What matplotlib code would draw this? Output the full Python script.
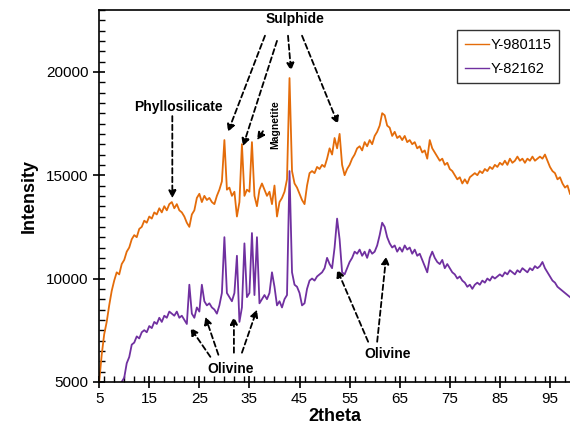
import numpy as np
import matplotlib
matplotlib.use("Agg")
import matplotlib.pyplot as plt
from matplotlib.ticker import MultipleLocator

plt.rcParams['font.family'] = ['Liberation Sans', 'DejaVu Sans']

# 2theta grids (0.5 deg steps)
theta_y98 = np.arange(5.0, 99.01, 0.5)
theta_y82 = np.arange(9.0, 99.01, 0.5)

# Y-980115 intensity, 5.0 .. 99.0
y980115 = [
    5000, 6300, 7300, 7900, 8700, 9400, 9900, 10300, 10200, 10700,            # 5.0-9.5
    10900, 11300, 11500, 11900, 12100, 12000, 12400, 12500, 12800, 12700,     # 10-14.5
    13000, 12900, 13200, 13100, 13400, 13200, 13500, 13300, 13600, 13700,     # 15-19.5
    13400, 13600, 13300, 13200, 13000, 12700, 12500, 13100, 13300, 13900,     # 20-24.5
    14100, 13700, 14000, 13800, 13900, 13700, 13600, 14000, 14300, 14700,     # 25-29.5
    16700, 14300, 14400, 14000, 14200, 13000, 13700, 16500, 14000, 14300,     # 30-34.5
    14200, 16600, 14000, 13500, 14300, 14600, 14300, 14000, 14200, 13600,     # 35-39.5
    14500, 13000, 13700, 13900, 14200, 14800, 19700, 15200, 14600, 14400,     # 40-44.5
    14100, 13800, 13600, 14500, 15100, 15200, 15100, 15400, 15300, 15500,     # 45-49.5
    15400, 15800, 16300, 16000, 16800, 16300, 17000, 15500, 15000, 15300,     # 50-54.5
    15500, 15800, 16000, 16300, 16400, 16200, 16600, 16400, 16700, 16500,     # 55-59.5
    16900, 17100, 17400, 18000, 17900, 17400, 17300, 16900, 17100, 16800,     # 60-64.5
    16900, 16700, 16900, 16600, 16700, 16500, 16600, 16300, 16400, 16100,     # 65-69.5
    16200, 15800, 16700, 16300, 16100, 15900, 15700, 15800, 15500, 15600,     # 70-74.5
    15300, 15200, 15000, 14800, 14900, 14600, 14800, 14600, 14900, 15000,     # 75-79.5
    15100, 15000, 15200, 15100, 15300, 15200, 15400, 15300, 15500, 15400,     # 80-84.5
    15600, 15500, 15700, 15500, 15800, 15600, 15700, 15900, 15700, 15800,     # 85-89.5
    15600, 15800, 15700, 15900, 15700, 15800, 15900, 15800, 16000, 15700,     # 90-94.5
    15400, 15200, 15100, 14800, 14900, 14600, 14400, 14500, 14100,            # 95-99
]

# Y-82162 intensity, 9.0 .. 99.0
y82162 = [
    4700, 5000,                                                               # 9.0-9.5
    5200, 5900, 6200, 6800, 6900, 7200, 7100, 7400, 7500, 7400,               # 10-14.5
    7700, 7600, 7900, 7800, 8100, 7900, 8200, 8100, 8400, 8300,               # 15-19.5
    8200, 8400, 8100, 8200, 8000, 7800, 9700, 8300, 8100, 8600,               # 20-24.5
    8400, 9700, 8900, 8700, 8800, 8600, 8500, 8300, 8700, 9300,               # 25-29.5
    12000, 9300, 9100, 8900, 9300, 11100, 7900, 8600, 11700, 9100,            # 30-34.5
    9300, 12200, 9200, 12000, 8800, 9000, 9200, 9000, 9300, 10300,            # 35-39.5
    9600, 8700, 8900, 8600, 9000, 9200, 15200, 10300, 9700, 9600,             # 40-44.5
    9300, 8700, 8800, 9500, 9900, 10000, 9900, 10100, 10200, 10300,           # 45-49.5
    10500, 11000, 10700, 10500, 11500, 12900, 11900, 10300, 10200, 10500,     # 50-54.5
    10800, 11000, 11300, 11200, 11400, 11100, 11300, 11000, 11400, 11200,     # 55-59.5
    11300, 11600, 12100, 12700, 12500, 12000, 11700, 11500, 11600, 11300,     # 60-64.5
    11500, 11300, 11600, 11400, 11500, 11200, 11400, 11100, 11200, 10900,     # 65-69.5
    10600, 10300, 11000, 11300, 11000, 10800, 10700, 10900, 10500, 10700,     # 70-74.5
    10500, 10300, 10200, 10000, 10100, 9900, 9800, 9600, 9700, 9500,          # 75-79.5
    9700, 9800, 9700, 9900, 9800, 10000, 9900, 10100, 10000, 10100,           # 80-84.5
    10200, 10100, 10300, 10200, 10400, 10300, 10200, 10400, 10300, 10500,     # 85-89.5
    10400, 10300, 10500, 10400, 10600, 10500, 10600, 10800, 10500, 10300,     # 90-94.5
    10100, 9900, 9800, 9600, 9500, 9400, 9300, 9200, 9100,                    # 95-99
]

series_names = ['Y-980115', 'Y-82162']
colors = ['#E46C0A', '#7030A0']
x_ticks = [5, 15, 25, 35, 45, 55, 65, 75, 85, 95]
y_ticks = [5000, 10000, 15000, 20000]

fig = plt.figure(figsize=(5.7, 4.3), dpi=100)
ax = fig.add_axes([0.174, 0.112, 0.826, 0.865])

ax.plot(theta_y98, y980115, color=colors[0], lw=1.3, label=series_names[0])
ax.plot(theta_y82, y82162, color=colors[1], lw=1.3, label=series_names[1])

ax.set_xlim(5, 99)
ax.set_ylim(5000, 23000)
ax.set_xticks(x_ticks)
ax.set_yticks(y_ticks)
ax.xaxis.set_minor_locator(MultipleLocator(2))
ax.yaxis.set_minor_locator(MultipleLocator(500))
ax.tick_params(which='major', direction='inout', length=8, width=1.2, labelsize=11)
ax.tick_params(which='minor', direction='in', length=4, width=1.0)
ax.spines['right'].set_visible(False)
for s in ['left', 'bottom', 'top']:
    ax.spines[s].set_linewidth(1.2)

ax.set_xlabel('2theta', fontsize=13, fontweight='bold', labelpad=1)
ax.set_ylabel('Intensity', fontsize=13, fontweight='bold', labelpad=6)

leg = ax.legend(loc='upper right', bbox_to_anchor=(0.977, 0.945), fontsize=10.5,
                frameon=True, fancybox=False, handlelength=1.7, handletextpad=0.1,
                borderpad=0.5, labelspacing=0.7, borderaxespad=0)
leg.get_frame().set_edgecolor('black')
leg.get_frame().set_linewidth(1.0)
for line in leg.get_lines():
    line.set_linewidth(1.0)

arrow_kw = dict(arrowstyle='-|>', color='black', lw=1.3, linestyle=(0, (3, 1.8)),
                mutation_scale=11, shrinkA=0, shrinkB=0)
text_kw = dict(fontsize=10, fontweight='bold', ha='center', va='center')

# Sulphide
ax.text(44.1, 22570, 'Sulphide', **text_kw)
for tail, head in [((38.1, 21750), (30.7, 17090)),
                   ((40.5, 21500), (33.7, 16400)),
                   ((42.7, 21750), (43.3, 20050)),
                   ((45.5, 21750), (52.7, 17470))]:
    ax.annotate('', xy=head, xytext=tail, arrowprops=arrow_kw)

# Magnetite
ax.text(40.1, 17470, 'Magnetite', fontsize=7.5, fontweight='bold', rotation=90,
        ha='center', va='center')
ax.annotate('', xy=(36.5, 16700), xytext=(37.7, 17130), arrowprops=arrow_kw)

# Phyllosilicate
ax.text(20.8, 18300, 'Phyllosilicate', **text_kw)
ax.annotate('', xy=(19.6, 13880), xytext=(19.6, 17860), arrowprops=arrow_kw)

# Olivine (left group)
ax.text(31.3, 5630, 'Olivine', **text_kw)
for tail, head in [((27.2, 6210), (23.2, 7620)),
                   ((28.8, 6310), (26.2, 8150)),
                   ((31.9, 6410), (31.9, 8150)),
                   ((33.5, 6410), (36.5, 8500))]:
    ax.annotate('', xy=head, xytext=tail, arrowprops=arrow_kw)

# Olivine (right group)
ax.text(62.5, 6360, 'Olivine', **text_kw)
for tail, head in [((58.7, 6940), (52.5, 10440)),
                   ((60.5, 6940), (62.3, 11070))]:
    ax.annotate('', xy=head, xytext=tail, arrowprops=arrow_kw)

fig.savefig('out.png', dpi=100)
